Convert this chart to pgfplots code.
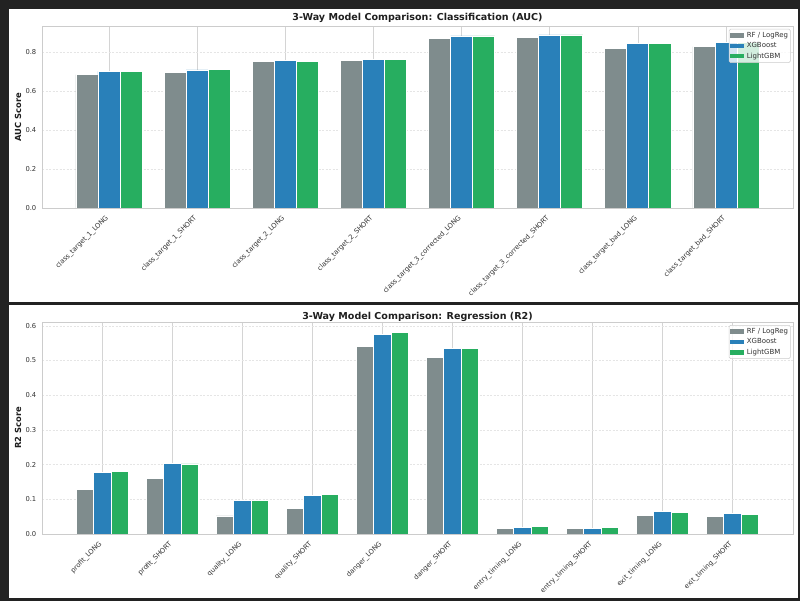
\documentclass[border=0pt]{standalone}
\usepackage{fontspec}
\setmainfont{DejaVu Sans}
\usepackage{pgfplots}
\usepackage{pgfplotstable}
\pgfplotsset{compat=1.18}
\definecolor{rfgray}{HTML}{7F8C8D}
\definecolor{xgblue}{HTML}{2980B9}
\definecolor{lgbgreen}{HTML}{27AE60}
\definecolor{framec}{HTML}{222222}
\definecolor{tickc}{HTML}{333333}

\pgfplotstableread{
x rf xgb lgb
0 0.685 0.702 0.702
1 0.697 0.709 0.713
2 0.752 0.759 0.755
3 0.759 0.762 0.762
4 0.870 0.884 0.884
5 0.875 0.889 0.889
6 0.820 0.843 0.843
7 0.829 0.851 0.851
}\clstable

\pgfplotstableread{
x rf xgb lgb
0 0.129 0.177 0.179
1 0.160 0.204 0.202
2 0.052 0.097 0.097
3 0.073 0.112 0.114
4 0.540 0.574 0.580
5 0.509 0.535 0.535
6 0.015 0.019 0.021
7 0.017 0.017 0.019
8 0.054 0.064 0.061
9 0.051 0.058 0.056
}\regtable

\pgfplotsset{
  panel/.style={
    scale only axis, width=751bp,
    ybar, bar width=0.25,
    ymin=0,
    axis line style={draw=black!20, line width=0.6bp},
    major tick length=0pt,
    xmajorgrids, ymajorgrids,
    x grid style={draw=black!17, line width=0.6bp},
    y grid style={draw=black!10, line width=0.5bp, dash pattern=on 2bp off 1.5bp},
    axis on top=false,
    ticklabel style={font=\fontsize{6.8}{8}\selectfont, text=tickc},
    /pgf/number format/assume math mode=true,
    yticklabel style={inner sep=0pt, xshift=-5.5bp, /pgf/number format/.cd, fixed, fixed zerofill, precision=1},
    xticklabel style={xshift=-4bp, yshift=-6.5bp, rotate=45, anchor=north east, inner sep=0pt},
    every axis y label/.style={at={(axis description cs:-0.032,0.5)}, rotate=90, anchor=center, font=\bfseries\fontsize{8.4}{10}\selectfont, text=black!88},
    every axis title/.style={at={(axis description cs:0.5,1)}, anchor=base, font=\bfseries\fontsize{9.6}{11}\selectfont, text=black!88},
    legend style={at={(axis description cs:1,1)}, xshift=-2.3bp, yshift=-3bp, anchor=north east,
      draw=black!20, line width=0.5bp, fill=white, fill opacity=0.8, text opacity=1, rounded corners=1.5bp,
      font=\fontsize{7}{8}\selectfont, text=tickc,
      inner xsep=1.3bp, inner ysep=2bp, row sep=1.6bp, column sep=1.5bp,
      nodes={inner sep=1bp, text height=5.2bp, text depth=1.5bp}},
    legend cell align=left,
  },
  bars/.style={fill=#1, draw=white, line width=0.8bp,
    legend image code/.code={\fill[fill=#1, draw=none, fill opacity=1, sharp corners] (0bp,-2.3bp) rectangle (14bp,2.3bp);}},
}

\begin{document}
\begin{tikzpicture}
\useasboundingbox (0,0) rectangle (800bp,601bp);
\fill[framec] (0,0) rectangle (800bp,601bp);
\fill[white] (9bp,299bp) rectangle (798bp,592bp);
\fill[white] (9bp,3bp) rectangle (798bp,296bp);

\begin{axis}[panel,
  at={(42bp,393bp)}, anchor=south west, height=182bp,
  xmin=-0.76, xmax=7.76, ymax=0.935,
  xtick={0,1,2,3,4,5,6,7},
  xticklabels={class\_target\_1\_LONG,class\_target\_1\_SHORT,class\_target\_2\_LONG,class\_target\_2\_SHORT,class\_target\_3\_corrected\_LONG,class\_target\_3\_corrected\_SHORT,class\_target\_bad\_LONG,class\_target\_bad\_SHORT},
  ytick={0,0.2,0.4,0.6,0.8},
  ylabel={AUC Score},
  title={3-Way Model Comparison: Classification (AUC)},
  title style={yshift=5bp},
]
\addplot[bars=rfgray, bar shift=-0.25] table[x=x, y=rf] {\clstable};
\addplot[bars=xgblue, bar shift=0] table[x=x, y=xgb] {\clstable};
\addplot[bars=lgbgreen, bar shift=0.25] table[x=x, y=lgb] {\clstable};
\legend{RF / LogReg, XGBoost, LightGBM}
\end{axis}

\begin{axis}[panel,
  at={(42bp,67bp)}, anchor=south west, height=212bp,
  xmin=-0.8625, xmax=9.8625, ymax=0.611,
  xtick={0,1,2,3,4,5,6,7,8,9},
  xticklabels={profit\_LONG,profit\_SHORT,quality\_LONG,quality\_SHORT,danger\_LONG,danger\_SHORT,entry\_timing\_LONG,entry\_timing\_SHORT,exit\_timing\_LONG,exit\_timing\_SHORT},
  ytick={0,0.1,0.2,0.3,0.4,0.5,0.6},
  ylabel={R2 Score},
  title={3-Way Model Comparison: Regression (R2)},
  title style={yshift=2.7bp},
]
\addplot[bars=rfgray, bar shift=-0.25] table[x=x, y=rf] {\regtable};
\addplot[bars=xgblue, bar shift=0] table[x=x, y=xgb] {\regtable};
\addplot[bars=lgbgreen, bar shift=0.25] table[x=x, y=lgb] {\regtable};
\legend{RF / LogReg, XGBoost, LightGBM}
\end{axis}
\end{tikzpicture}
\end{document}
